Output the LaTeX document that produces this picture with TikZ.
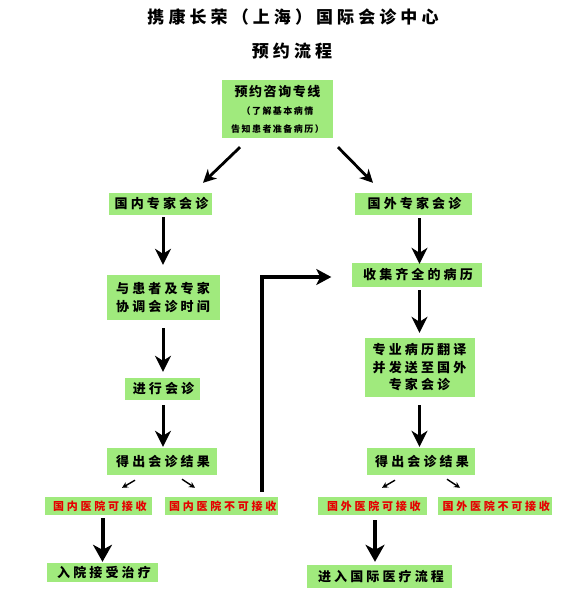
\documentclass[tikz,border=0pt]{standalone}
\usepackage{fontspec}
\setmainfont{Noto Sans CJK SC}
\usetikzlibrary{arrows.meta,calc}
\definecolor{boxgreen}{RGB}{160,234,125}
\definecolor{redtext}{RGB}{230,0,0}
\begin{document}
\begin{tikzpicture}[x=1pt,y=-1pt,
  box/.style={fill=boxgreen, draw=none, inner sep=0pt, align=center,
    font=\bfseries\fontsize{13}{17.5}\selectfont\addfontfeatures{LetterSpace=24}},
  redbox/.style={fill=boxgreen, draw=none, inner sep=0pt, text=redtext,
    minimum height=18pt,
    font=\bfseries\fontsize{11}{12}\selectfont\addfontfeatures{LetterSpace=25}},
  titlefont/.style={inner sep=0pt,
    font=\bfseries\fontsize{17}{20}\selectfont\addfontfeatures{LetterSpace=24}},
  varrow/.style={line width=3pt, -{Stealth[length=16pt,width=16pt,inset=5pt]}},
  bigarrow/.style={line width=4pt, -{Stealth[length=17pt,width=19pt,inset=5pt]}},
  diagarrow/.style={line width=2.8pt, -{Stealth[length=13pt,width=13pt,inset=4pt]}},
  smallarrow/.style={line width=1.4pt, -{Stealth[length=6pt,width=6pt,inset=2pt]}},
  bendarrow/.style={line width=3.5pt, -{Stealth[length=15pt,width=16pt,inset=4pt]}}
]
\useasboundingbox[fill=white] (0,0) rectangle (568,593);

% titles
\node[titlefont] (T1) at (293,17) {携康长荣（上海）国际会诊中心};
\node[titlefont] (T2) at (292,51) {预约流程};

% top box
\node[box, minimum width=111pt, minimum height=58pt] (Top) at (277.5,109)
  {{\fontsize{13}{14}\selectfont\addfontfeatures{LetterSpace=12}预约咨询专线}\\[1pt]
   {\fontsize{9}{10.5}\selectfont\addfontfeatures{LetterSpace=16}（了解基本病情}\\
   {\fontsize{9}{10.5}\selectfont\addfontfeatures{LetterSpace=16}告知患者准备病历）}};

% left column
\node[box, minimum width=103pt, minimum height=22pt] (L1) at (160,204) {\hspace*{3pt}国内专家会诊};
\node[box, minimum width=113pt, minimum height=45pt] (L2) at (163,297.5) {与患者及专家\\协调会诊时间};
\node[box, minimum width=75pt, minimum height=22pt] (L3) at (162,389) {\hspace*{3pt}进行会诊};
\node[box, minimum width=110pt, minimum height=27pt] (L4) at (161.5,461.5) {\hspace*{3pt}得出会诊结果};
\node[redbox, minimum width=107pt] (L5a) at (98.5,506) {\hspace*{2.7pt}国内医院可接收};
\node[redbox, minimum width=113pt] (L5b) at (221.5,506) {\hspace*{2.7pt}国内医院不可接收};
\node[box, minimum width=111pt, minimum height=19pt] (L6) at (102.5,572.5) {\hspace*{3pt}入院接受治疗};

% right column
\node[box, minimum width=117pt, minimum height=22pt] (R1) at (413,204) {\hspace*{3pt}国外专家会诊};
\node[box, minimum width=130pt, minimum height=24pt] (R2) at (416.5,275) {\hspace*{3pt}收集齐全的病历};
\node[box, minimum width=110pt, minimum height=59pt] (R3) at (419.5,367.5) {专业病历翻译\\并发送至国外\\专家会诊};
\node[box, minimum width=108pt, minimum height=27pt] (R4) at (420.5,461.5) {\hspace*{3pt}得出会诊结果};
\node[redbox, minimum width=109pt] (R5a) at (372.5,506) {\hspace*{2.7pt}国外医院可接收};
\node[redbox, minimum width=114pt] (R5b) at (495,506) {\hspace*{2.7pt}国外医院不可接收};
\node[box, minimum width=145pt, minimum height=23pt] (R6) at (379.5,576.5) {\hspace*{3pt}进入国际医疗流程};

% diagonal arrows from top
\draw[diagarrow] ($(Top.south)+(-37.5,9)$) -- ($(L1.north)+(43,-10)$);
\draw[diagarrow] ($(Top.south)+(60.5,9)$) -- ($(R1.north)+(-40,-10)$);

% left column arrows
\draw[varrow, shorten <=2pt, shorten >=10pt] (L1.south -| L2.north) -- (L2.north);
\draw[varrow, shorten <=8pt, shorten >=6pt] (L2.south) -- (L3.north -| L2.south);
\draw[varrow, shorten <=5pt, shorten >=1pt] (L3.south -| L2.south) -- (L4.north -| L2.south);

% right column arrows
\draw[varrow, shorten <=3pt, shorten >=-1pt] (R1.south -| R3.north) -- (R2.north -| R3.north);
\draw[varrow, shorten <=3pt, shorten >=5pt] (R2.south -| R3.north) -- (R3.north);
\draw[varrow, shorten <=8pt, shorten >=1pt] (R3.south) -- (R4.north -| R3.south);

% small split arrows
\draw[smallarrow] ($(L4.south)+(-26.5,5)$) -- ($(L5a.north)+(23.5,-9)$);
\draw[smallarrow] ($(L4.south)+(20.5,4)$) -- ($(L5b.north)+(-26.5,-9)$);
\draw[smallarrow] ($(R4.south)+(-25.5,5)$) -- ($(R5a.north)+(9.5,-9)$);
\draw[smallarrow] ($(R4.south)+(26.5,4)$) -- ($(R5b.north)+(-35,-9)$);

% bottom arrows
\draw[bigarrow, shorten <=3pt, shorten >=1pt] (L5a.south -| L6.north) -- (L6.north);
\draw[bigarrow, shorten <=5pt, shorten >=3pt] ([xshift=2.5pt]R5a.south) -- ([xshift=2.5pt]R5a.south |- R6.north);

% bent connector
\draw[bendarrow] ($(L5b.north)+(40.5,-5)$) |- ($(R2.west)+(-20,2)$);
\end{tikzpicture}
\end{document}
